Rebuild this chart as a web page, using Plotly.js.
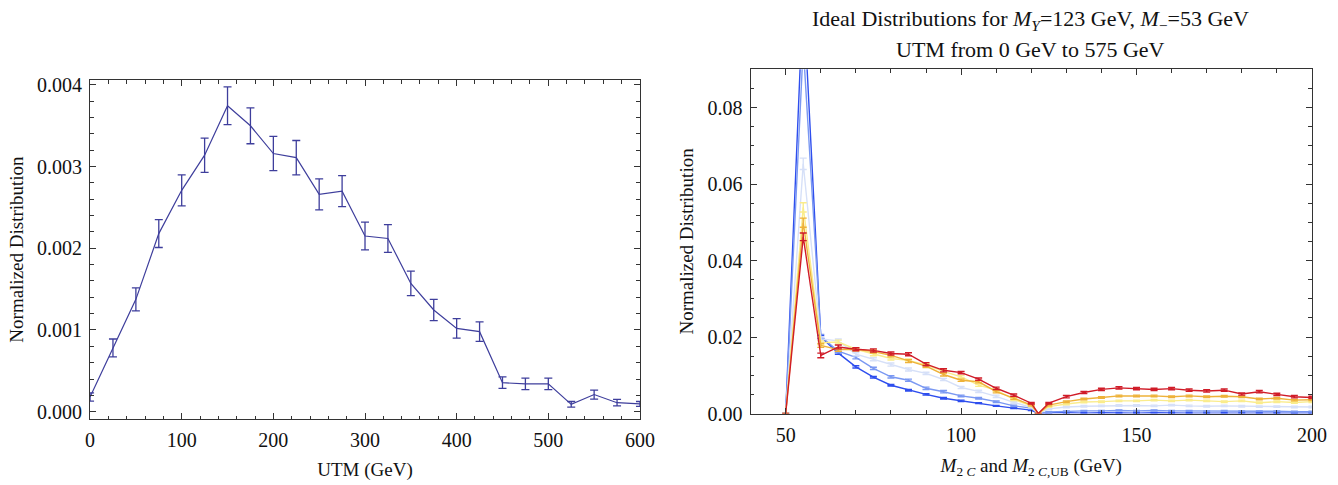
<!DOCTYPE html>
<html>
<head>
<meta charset="utf-8">
<script src="https://cdn.plot.ly/plotly-3.0.1.min.js"></script>
<style>html,body{margin:0;padding:0;background:#fff;} #chart{width:1338px;height:485px;}</style>
</head>
<body>
<div id="chart"></div>
<script>
// ---------- Left panel data ----------
const utm = [0,25,50,75,100,125,150,175,200,225,250,275,300,325,350,375,400,425,450,475,500,525,550,575,600];
const utmDist = [0.00018,0.00078,0.001375,0.00218,0.00271,0.00314,0.003745,0.00350,0.00316,0.00311,0.00266,0.00270,0.00215,0.00212,0.00157,0.001245,0.00102,0.00098,0.000355,0.00034,0.00034,0.00009,0.00021,0.00011,0.000095];
const utmErr = [0.00005,0.00011,0.00014,0.00017,0.00019,0.00021,0.00023,0.00022,0.00021,0.00021,0.00019,0.00019,0.00017,0.00017,0.00015,0.00013,0.00012,0.00012,0.00007,0.00007,0.00007,0.000035,0.000055,0.00004,0.00003];

// ---------- Right panel data ----------
const m2c = [50,55,60,65,70,75,80,85,90,95,100,105,110,115,120,122,125,130,135,140,145,150,155,160,165,170,175,180,185,190,195,200];
const distDarkBlue = [0,0.110,0.0200,0.0158,0.0122,0.0095,0.0074,0.0061,0.0050,0.0040,0.0033,0.0027,0.0020,0.0014,0.0009,0,0.0002,0.0002,0.0001,0.0002,0.0001,0.0001,0.0002,0.0001,0.0001,0.0001,0.0001,0.0002,0.0001,0.0001,0.0001,0.0001];
const errDarkBlue  = [0,0.002,0.0004,0.0003,0.0003,0.0002,0.0002,0.0002,0.0002,0.0002,0.0002,0.0001,0.0001,0.0001,0.0001,0,0.0001,0.0001,0.0001,0.0001,0.0001,0.0001,0.0001,0.0001,0.0001,0.0001,0.0001,0.0001,0.0001,0.0001,0.0001,0.0001];
const distMidBlue = [0,0.096,0.0202,0.0163,0.0147,0.0118,0.0096,0.0087,0.0066,0.0057,0.0046,0.0040,0.0031,0.0020,0.0014,0,0.0004,0.0006,0.0007,0.0007,0.0008,0.0007,0.0008,0.0007,0.0007,0.0006,0.0007,0.0006,0.0006,0.0006,0.0005,0.0005];
const errMidBlue  = [0,0.002,0.0005,0.0004,0.0004,0.0003,0.0003,0.0003,0.0003,0.0003,0.0002,0.0002,0.0002,0.0002,0.0002,0,0.0001,0.0001,0.0001,0.0001,0.0001,0.0001,0.0001,0.0001,0.0001,0.0001,0.0001,0.0001,0.0001,0.0001,0.0001,0.0001];
const distPaleBlue = [0,0.0653,0.0195,0.0190,0.0155,0.0142,0.0128,0.0115,0.0105,0.0089,0.0068,0.0058,0.0045,0.0029,0.0016,0,0.0012,0.0017,0.0019,0.0020,0.0021,0.0021,0.0020,0.0022,0.0020,0.0019,0.0020,0.0019,0.0018,0.0018,0.0017,0.0017];
const errPaleBlue  = [0,0.0015,0.0005,0.0005,0.0004,0.0004,0.0004,0.0004,0.0003,0.0003,0.0003,0.0003,0.0003,0.0002,0.0002,0,0.0002,0.0002,0.0002,0.0002,0.0002,0.0002,0.0002,0.0002,0.0002,0.0002,0.0002,0.0002,0.0002,0.0002,0.0002,0.0002];
const distLightYellow = [0,0.0539,0.0185,0.0187,0.0168,0.0155,0.0144,0.0139,0.0127,0.0110,0.0096,0.0074,0.0061,0.0037,0.0020,0,0.0018,0.0025,0.0030,0.0031,0.0033,0.0033,0.0035,0.0033,0.0035,0.0033,0.0031,0.0033,0.0028,0.0031,0.0029,0.0031];
const errLightYellow  = [0,0.0012,0.0005,0.0005,0.0004,0.0004,0.0004,0.0004,0.0004,0.0004,0.0003,0.0003,0.0003,0.0003,0.0002,0,0.0002,0.0002,0.0002,0.0002,0.0002,0.0002,0.0002,0.0002,0.0002,0.0002,0.0002,0.0002,0.0002,0.0002,0.0002,0.0002];
const distOrange = [0,0.0499,0.0178,0.0167,0.0168,0.0162,0.0152,0.0137,0.0124,0.0102,0.0087,0.0083,0.0057,0.0040,0.0022,0,0.0022,0.0031,0.0038,0.0042,0.0046,0.0046,0.0046,0.0044,0.0046,0.0044,0.0045,0.0044,0.0038,0.0040,0.0035,0.0036];
const errOrange  = [0,0.0012,0.0005,0.0004,0.0004,0.0004,0.0004,0.0004,0.0004,0.0004,0.0003,0.0003,0.0003,0.0003,0.0002,0,0.0002,0.0002,0.0002,0.0002,0.0002,0.0002,0.0002,0.0002,0.0002,0.0002,0.0002,0.0002,0.0002,0.0002,0.0002,0.0002];
const distRed = [0,0.0462,0.0152,0.0174,0.0168,0.0165,0.0157,0.0155,0.0129,0.0113,0.0107,0.0090,0.0066,0.0048,0.0027,0,0.0027,0.0044,0.0055,0.0063,0.0067,0.0065,0.0063,0.0065,0.0061,0.0059,0.0061,0.0051,0.0057,0.0050,0.0044,0.0042];
const errRed  = [0,0.0010,0.0006,0.0005,0.0004,0.0004,0.0004,0.0004,0.0004,0.0004,0.0003,0.0003,0.0003,0.0003,0.0002,0,0.0002,0.0003,0.0003,0.0003,0.0003,0.0003,0.0003,0.0003,0.0003,0.0003,0.0003,0.0003,0.0003,0.0003,0.0003,0.0003];

const titleLine1 = 'Ideal Distributions for <i>M</i><sub><i>Y</i></sub>=123 GeV, <i>M</i><sub>−</sub>=53 GeV';
const titleLine2 = 'UTM from 0 GeV to 575 GeV';

const rightSeries = [
  {y: distDarkBlue, e: errDarkBlue, color: 'rgb(46,78,238)'},
  {y: distMidBlue, e: errMidBlue, color: 'rgb(122,152,242)'},
  {y: distPaleBlue, e: errPaleBlue, color: 'rgb(214,224,248)'},
  {y: distLightYellow, e: errLightYellow, color: 'rgb(250,236,140)'},
  {y: distOrange, e: errOrange, color: 'rgb(238,178,58)'},
  {y: distRed, e: errRed, color: 'rgb(208,28,40)'}
];

const FONT = '"Liberation Serif", "Times New Roman", serif';
const leftColor = 'rgb(62,62,156)';

const traces = [{
  x: utm, y: utmDist, type: 'scatter', mode: 'lines',
  line: {color: leftColor, width: 1.2},
  error_y: {type: 'data', array: utmErr, visible: true, color: leftColor, thickness: 1.3, width: 4},
  xaxis: 'x', yaxis: 'y', hoverinfo: 'skip'
}];
rightSeries.forEach(s => {
  traces.push({
    x: m2c, y: s.y, type: 'scatter', mode: 'lines',
    line: {color: s.color, width: 1.4},
    error_y: {type: 'data', array: s.e, visible: true, color: s.color, thickness: 1.4, width: 3.5},
    xaxis: 'x2', yaxis: 'y2', hoverinfo: 'skip'
  });
});

const axisCommon = {
  showline: true, linecolor: '#333', linewidth: 1, mirror: 'ticks',
  ticks: 'inside', ticklen: 6, tickcolor: '#333', tickwidth: 1,
  showgrid: false, zeroline: false,
  tickfont: {family: FONT, size: 20, color: '#111'},
  ticklabelstandoff: 3
};
const minorCommon = {ticks: 'inside', ticklen: 3.5, tickcolor: '#333', tickwidth: 1, showgrid: false};
const titleFont = {family: FONT, size: 19, color: '#111'};

const layout = {
  width: 1338, height: 485,
  margin: {l: 0, r: 0, t: 0, b: 0},
  paper_bgcolor: '#fff', plot_bgcolor: '#fff',
  showlegend: false,
  font: {family: FONT, color: '#111'},
  annotations: [
    {text: titleLine1, xref: 'paper', yref: 'paper', x: 0.7705, y: 0.958, xanchor: 'center', yanchor: 'middle',
     showarrow: false, font: {family: FONT, size: 22, color: '#111'}},
    {text: titleLine2, xref: 'paper', yref: 'paper', x: 0.7705, y: 0.897, xanchor: 'center', yanchor: 'middle',
     showarrow: false, font: {family: FONT, size: 22, color: '#111'}}
  ],
  xaxis: Object.assign({}, axisCommon, {
    domain: [0.0673, 0.4783], range: [0, 600], dtick: 100, tick0: 0,
    minor: Object.assign({dtick: 20}, minorCommon),
    anchor: 'y',
    title: {text: 'UTM (GeV)', font: titleFont, standoff: 12}
  }),
  yaxis: Object.assign({}, axisCommon, {
    domain: [0.136, 0.835], range: [-0.00009, 0.00406], dtick: 0.001, tick0: 0, tickformat: '.3f',
    minor: Object.assign({dtick: 0.0002}, minorCommon),
    anchor: 'x',
    title: {text: 'Normalized Distribution', font: titleFont, standoff: 8}
  }),
  xaxis2: Object.assign({}, axisCommon, {
    domain: [0.561, 0.9805], range: [40, 200], dtick: 50, tick0: 0,
    minor: Object.assign({dtick: 10}, minorCommon),
    anchor: 'y2',
    title: {text: '<i>M</i><sub>2 <i>C</i></sub> and <i>M</i><sub>2 <i>C</i>,UB</sub> (GeV)', font: titleFont, standoff: 14}
  }),
  yaxis2: Object.assign({}, axisCommon, {
    domain: [0.1474, 0.857], range: [0, 0.09], dtick: 0.02, tick0: 0, tickformat: '.2f',
    minor: Object.assign({dtick: 0.005}, minorCommon),
    anchor: 'x2',
    title: {text: 'Normalized Distribution', font: titleFont, standoff: 8}
  })
};

Plotly.newPlot('chart', traces, layout, {staticPlot: true, displayModeBar: false});
</script>
</body>
</html>
